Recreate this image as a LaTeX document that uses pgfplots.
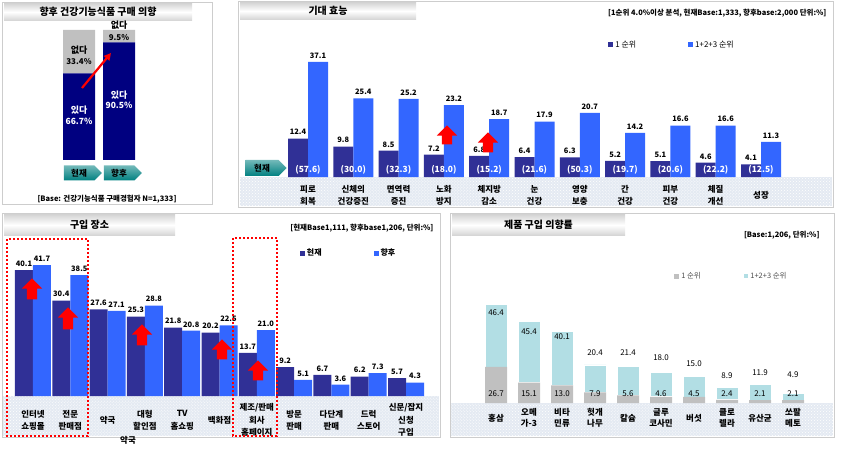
\documentclass[border=0pt]{standalone}
\usepackage{fontspec}
\setmainfont{Noto Sans CJK KR}
\usepackage{pgfplots}
\pgfplotsset{compat=1.18}
\usetikzlibrary{shapes.arrows,shapes.symbols,arrows.meta,patterns}

\definecolor{dk}{RGB}{48,48,150}
\definecolor{bl}{RGB}{51,102,255}
\definecolor{nv}{RGB}{0,0,128}
\definecolor{sv}{RGB}{192,192,192}
\definecolor{cy}{RGB}{178,222,228}
\definecolor{tl}{RGB}{0,128,128}
\definecolor{hatch}{RGB}{228,234,242}
\definecolor{frame}{RGB}{205,205,205}

\newcommand\fs[2]{\fontsize{#1}{#2}\selectfont}
\newcommand\banner[5]{%
  \shade[top color=gray!35, bottom color=gray!35, middle color=white] (#1,#2) rectangle (#3,#4);
  \node[font=\bfseries\fs{10}{12}] at ({(#1+#3)/2},{(#2+#4)/2}) {#5};}
\newcommand\strip[4]{%
  \fill[hatch] (#1,#2) rectangle (#3,#4);
  \fill[pattern=crosshatch dots, pattern color=white] (#1,#2) rectangle (#3,#4);}

\tikzset{
  uparrow/.style={single arrow, draw=none, fill=red, shape border rotate=90,
    minimum height=#1, single arrow head extend=5bp, inner sep=5bp},
  krtag/.style={signal, signal to=east, top color=tl!55!white, bottom color=tl, draw=none,
    font=\bfseries\fs{8.5}{10}, text=black, inner sep=0pt}
}

\pgfplotsset{
  panel/.style={scale only axis, clip=false, ymin=0, enlargelimits=false,
    axis line style={draw=none}, tick style={draw=none}, ytick=\empty,
    /pgf/number format/assume math mode=true,
    /pgf/number format/fixed, /pgf/number format/fixed zerofill,
    /pgf/number format/precision=1},
  sqlegend/.style={legend style={draw=none, fill=none, legend columns=2,
      /tikz/every even column/.append style={column sep=#1}},
    legend image code/.code={\fill[##1] (0bp,-2.5bp) rectangle (5bp,2.5bp);}},
}

\begin{document}
\begin{tikzpicture}[x=1bp,y=-1bp]
\useasboundingbox (0,0) rectangle (851,452);
% frames and backgrounds
\draw[frame] (2,2) rectangle (212,204);
\draw[frame] (238,1) rectangle (833,207);
\draw[frame] (2,213) rectangle (440,437);
\draw[frame] (450,213) rectangle (834,437);
\strip{240}{177}{832}{206}
\strip{3}{396}{439}{436}
\strip{451}{403}{833}{436}
\banner{4}{3}{192}{21}{향후 건강기능식품 구매 의향}
\banner{240}{2}{416}{20}{기대 효능}
\banner{4}{214}{175}{236}{구입 장소}
\banner{452}{214}{625}{236}{제품 구입 의향률}

% ---- panel 1: purchase intention
\begin{axis}[panel, at={(59bp,-160bp)}, anchor=south west, width=80bp, height=130bp,
  xmin=-0.5, xmax=1.5, ymax=100, ybar stacked, bar width=32bp,
  xtick={0,1}, xticklabels={현재,향후},
  xticklabel style={krtag, minimum width=38bp, minimum height=15bp, anchor=center, yshift=-13bp}]
\addplot[fill=nv, draw=none] coordinates {(0,66.7) (1,90.5)};
\addplot[fill=sv, draw=none] coordinates {(0,33.4) (1,9.5)};
\end{axis}
\begin{axis}[panel, at={(59bp,-160bp)}, anchor=south west, width=80bp, height=130bp,
  xmin=-0.5, xmax=1.5, ymax=100, xtick=\empty, nodes near coords align=center]
\addplot[draw=none, mark=none, point meta=explicit symbolic, nodes near coords={\pgfplotspointmeta},
  every node near coord/.append style={text=white, font=\bfseries\fs{9}{10}}]
  coordinates {(0,38.5) [있다] (1,50) [있다]};
\addplot[draw=none, mark=none, point meta=explicit, nodes near coords={\pgfmathprintnumber{\pgfplotspointmeta}\%},
  every node near coord/.append style={text=white, font=\bfseries\fs{8.5}{10}}]
  coordinates {(0,30) [66.7] (1,42.3) [90.5]};
\addplot[draw=none, mark=none, point meta=explicit symbolic, nodes near coords={\pgfplotspointmeta},
  every node near coord/.append style={text=black, font=\bfseries\fs{9}{10}}]
  coordinates {(0,84.6) [없다] (1,104) [없다]};
\addplot[draw=none, mark=none, point meta=explicit, nodes near coords={\pgfmathprintnumber{\pgfplotspointmeta}\%},
  every node near coord/.append style={text=black, font=\bfseries\fs{8}{10}}]
  coordinates {(0,76) [33.4] (1,94) [9.5]};
\end{axis}
\draw[red, line width=2.2bp, -{Triangle[length=7bp,width=7bp]}] (82,88) -- (111,53);
\node[font=\bfseries\fs{7.5}{9}] at (107,199) {[Base: 건강기능식품 구매경험자 N=1,333]};

% ---- panel 2: expected efficacy
\node[anchor=east, font=\bfseries\fs{7.5}{9}] at (830,13) {[1순위 4.0\%이상 분석, 현재Base:1,333, 향후base:2,000 단위:\%]};
\begin{axis}[panel, at={(262.7bp,-177bp)}, anchor=south west, width=543.6bp, height=124bp,
  xmin=-1, xmax=11, ymax=40, ybar, bar width=20bp,
  xtick={0,...,10},
  xticklabels={피로\\회복, 신체의\\건강증진, 면역력\\증진, 노화\\방지, 체지방\\감소, 눈\\건강, 영양\\보충, 간\\건강, 피부\\건강, 체질\\개선, 성장},
  xticklabel style={align=center, anchor=center, yshift=-14bp, font=\bfseries\fs{8.5}{12}},
  sqlegend=50bp, legend style={at={(0.63,1.065)}, anchor=west, font=\fs{8}{10}},
  every node near coord/.append style={font=\bfseries\fs{7.5}{9}, text=black}]
\addplot[fill=dk, draw=none, bar shift=-10bp, nodes near coords]
  coordinates {(0,12.4) (1,9.8) (2,8.5) (3,7.2) (4,6.8) (5,6.4) (6,6.3) (7,5.2) (8,5.1) (9,4.6) (10,4.1)};
\addlegendentry{1 순위}
\addplot[fill=bl, draw=none, bar shift=10bp, nodes near coords]
  coordinates {(0,37.1) (1,25.4) (2,25.2) (3,23.2) (4,18.7) (5,17.9) (6,20.7) (7,14.2) (8,16.6) (9,16.6) (10,11.3)};
\addlegendentry{1+2+3 순위}
\addplot[forget plot, fill=none, draw=none, bar shift=0bp, point meta=explicit,
  nodes near coords={(\pgfmathprintnumber{\pgfplotspointmeta})}, nodes near coords align=center,
  every node near coord/.append style={text=white, font=\bfseries\fs{8.5}{10}}]
  coordinates {(0,2.3) [57.6] (1,2.3) [30.0] (2,2.3) [32.3] (3,2.3) [18.0] (4,2.3) [15.2] (5,2.3) [21.6]
    (6,2.3) [50.3] (7,2.3) [19.7] (8,2.3) [20.6] (9,2.3) [22.2] (10,2.3) [12.5]};
\end{axis}
\node[krtag, minimum width=41bp, minimum height=16bp] at (262,168) {현재};
\node[uparrow=19bp] at (447,137.5) {};
\node[uparrow=20bp] at (488,145) {};

% ---- panel 3: purchase place
\node[anchor=east, font=\bfseries\fs{7.5}{9}] at (437,228) {[현재Base1,111, 향후base1,206, 단위:\%]};
\begin{axis}[panel, at={(10.6bp,-396bp)}, anchor=south west, width=417.8bp, height=141.3bp,
  xmin=-0.6, xmax=10.6, ymax=45, ybar, bar width=18bp,
  xtick={0,...,10},
  xticklabels={인터넷\\쇼핑몰, 전문\\판매점, 약국, 대형\\할인점, TV\\홈쇼핑, 백화점, 제조/판매\\회사\\홈페이지, 방문\\판매, 다단계\\판매, 드럭\\스토어, 신문/잡지\\신청\\구입},
  xticklabel style={align=center, anchor=center, yshift=-20bp, font=\bfseries\fs{8.5}{12.5}},
  sqlegend=50bp, legend style={at={(0.685,1.012)}, anchor=west, font=\bfseries\fs{8}{10}},
  every node near coord/.append style={font=\bfseries\fs{7.5}{9}, text=black}]
\addplot[fill=dk, draw=none, bar shift=-9bp, nodes near coords]
  coordinates {(0,40.1) (1,30.4) (2,27.6) (3,25.3) (4,21.8) (5,20.2) (6,13.7) (7,9.2) (8,6.7) (9,6.2) (10,5.7)};
\addlegendentry{현재}
\addplot[fill=bl, draw=none, bar shift=9bp, nodes near coords]
  coordinates {(0,41.7) (1,38.5) (2,27.1) (3,28.8) (4,20.8) (5,22.5) (6,21.0) (7,5.1) (8,3.6) (9,7.3) (10,4.3)};
\addlegendentry{향후}
\end{axis}
\draw[red, line width=2bp, dash pattern=on 2bp off 2bp] (7,239) rectangle (88,436);
\draw[red, line width=2bp, dash pattern=on 2bp off 2bp] (233,238) rectangle (277,436);
\node[uparrow=21bp] at (32,291.5) {};
\node[uparrow=22bp] at (68,321) {};
\node[uparrow=21bp] at (142,337.5) {};
\node[uparrow=20bp] at (222,352) {};
\node[uparrow=20bp] at (258,373) {};
\node[font=\bfseries\fs{8.5}{10}] at (128,440) {약국};

% ---- panel 4: product purchase intention
\node[anchor=east, font=\bfseries\fs{7.5}{9}] at (823,235) {[Base:1,206, 단위:\%]};
\begin{axis}[panel, at={(469.6bp,-403bp)}, anchor=south west, width=349.8bp, height=108bp,
  xmin=-0.8, xmax=9.8, ymax=80, ybar stacked, bar width=22bp,
  xtick={0,...,9},
  xticklabels={홍삼, 오메\\가-3, 비타\\민류, 헛개\\나무, 칼슘, 글루\\코사민, 버섯, 클로\\렐라, 유산균, 쏘팔\\메토},
  xticklabel style={align=center, anchor=center, yshift=-15bp, font=\bfseries\fs{8.5}{11}},
  sqlegend=40bp, legend style={at={(0.576,1.176)}, anchor=west, font=\fs{7.5}{9}, text=black!70}]
\addplot[fill=sv, draw=none] coordinates {(0,26.7) (1,15.1) (2,13.0) (3,7.9) (4,5.6) (5,4.6) (6,4.5) (7,2.4) (8,2.1) (9,2.1)};
\addlegendentry{1 순위}
\addplot[fill=cy, draw=white, line width=0.6bp] coordinates {(0,46.4) (1,45.4) (2,40.1) (3,20.4) (4,21.4) (5,18.0) (6,15.0) (7,8.9) (8,11.9) (9,4.9)};
\addlegendentry{1+2+3 순위}
\end{axis}
\begin{axis}[panel, at={(469.6bp,-403bp)}, anchor=south west, width=349.8bp, height=108bp,
  xmin=-0.8, xmax=9.8, ymax=80, xtick=\empty, nodes near coords align=center,
  every node near coord/.append style={font=\fs{8}{10}, text=black}]
\addplot[draw=none, mark=none, point meta=explicit, nodes near coords]
  coordinates {(0,7.2) [26.7] (1,7.2) [15.1] (2,7.2) [13.0] (3,7.2) [7.9] (4,7.2) [5.6] (5,7.2) [4.6] (6,7.2) [4.5] (7,7.2) [2.4] (8,7.2) [2.1] (9,7.2) [2.1]};
\addplot[draw=none, mark=none, point meta=explicit, nodes near coords]
  coordinates {(0,66.7) [46.4] (1,52.6) [45.4] (2,48.9) [40.1] (3,37) [20.4] (4,37) [21.4] (5,33.3) [18.0] (6,28.9) [15.0] (7,20) [8.9] (8,22.2) [11.9] (9,20.7) [4.9]};
\end{axis}
\end{tikzpicture}
\end{document}
